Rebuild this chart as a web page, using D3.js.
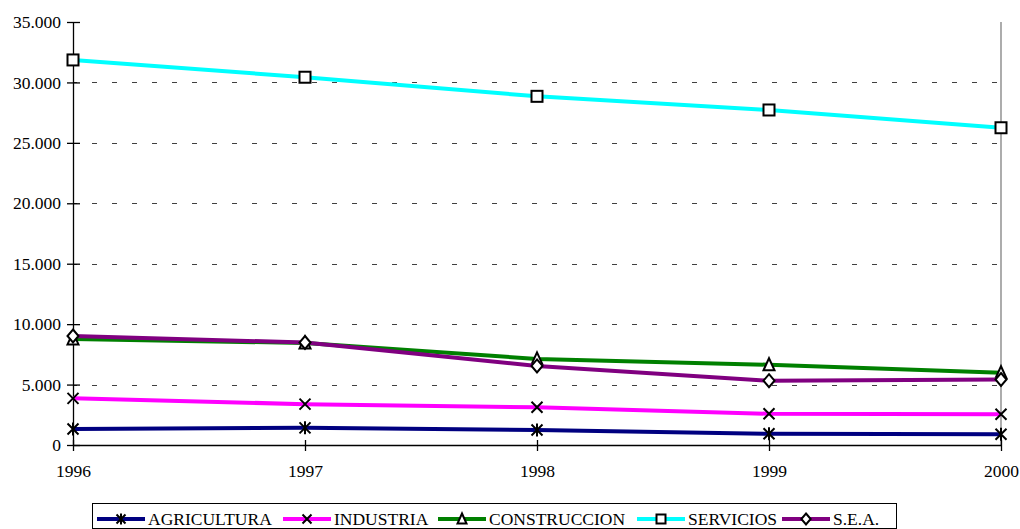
<!DOCTYPE html>
<html>
<head>
<meta charset="utf-8">
<script src="https://cdn.jsdelivr.net/npm/d3@7"></script>
<style>
  html, body { margin: 0; padding: 0; background: #fff; }
  svg { display: block; }
  svg text { font-family: "Times New Roman", "Liberation Serif", Tinos, "DejaVu Serif", serif !important; fill: #000; }
</style>
</head>
<body>
<svg id="chart" width="1020" height="529"></svg>
<script>
const years = [1996, 1997, 1998, 1999, 2000];
const yTicks = [0, 5000, 10000, 15000, 20000, 25000, 30000, 35000];
const seriesNames = ["AGRICULTURA", "INDUSTRIA", "CONSTRUCCION", "SERVICIOS", "S.E.A."];
const agricultura = [1320, 1420, 1240, 930, 890];
const industria = [3860, 3380, 3120, 2580, 2540];
const construccion = [8780, 8440, 7120, 6640, 5980];
const servicios = [31860, 30430, 28850, 27720, 26250];
const sea = [9020, 8480, 6540, 5320, 5420];
const seriesColors = ["#000080", "#FF00FF", "#008000", "#00FFFF", "#800080"];
const seriesMarkers = ["asterisk", "x", "triangle", "square", "diamond"];

(function () {
const seriesValues = [agricultura, industria, construccion, servicios, sea];
const series = seriesNames.map((n, i) => ({
  name: n, values: seriesValues[i], color: seriesColors[i], marker: seriesMarkers[i]
}));

const FONT = '"Times New Roman", "Liberation Serif", Tinos, "DejaVu Serif", serif';
const svg = d3.select("#chart");
const pLeft = 73, pRight = 1001, pTop = 22, pBottom = 445;
const x = d3.scaleLinear().domain([1996, 2000]).range([pLeft, pRight]);
const y = d3.scaleLinear().domain([0, 35000]).range([pBottom, pTop]);
const fmt = d => d === 0 ? "0" : d3.format(",")(d).replace(/,/g, ".");

// gridlines
svg.append("g").selectAll("line").data(yTicks.filter(t => t > 0 && t < 35000)).join("line")
  .attr("x1", pLeft).attr("x2", pRight)
  .attr("y1", d => Math.round(y(d)) + 0.5).attr("y2", d => Math.round(y(d)) + 0.5)
  .attr("stroke", "#404040").attr("stroke-width", 1)
  .attr("stroke-dasharray", "5,15").attr("stroke-dashoffset", 1);

// right border
svg.append("line").attr("x1", pRight).attr("x2", pRight).attr("y1", pTop).attr("y2", pBottom)
  .attr("stroke", "#808080").attr("stroke-width", 1.3);

// axes
const yAxis = d3.axisLeft(y).tickValues(yTicks).tickFormat(fmt).tickSizeInner(6).tickSizeOuter(0).tickPadding(6);
const gy = svg.append("g").attr("transform", `translate(${pLeft},0)`).call(yAxis)
  .attr("font-family", FONT).attr("font-size", 17.5);
gy.select(".domain").attr("stroke", "#000").attr("stroke-width", 1.3);
gy.selectAll(".tick line").attr("x1", -6).attr("x2", 7).attr("stroke", "#000").attr("stroke-width", 1.3);
gy.selectAll(".tick text").attr("fill", "#000");

const xAxis = d3.axisBottom(x).tickValues(years).tickFormat(d3.format("d")).tickSizeInner(6).tickSizeOuter(0).tickPadding(14);
const gx = svg.append("g").attr("transform", `translate(0,${pBottom})`).call(xAxis)
  .attr("font-family", FONT).attr("font-size", 17.5);
gx.select(".domain").attr("stroke", "#000").attr("stroke-width", 1.3);
gx.selectAll(".tick line").attr("y1", -5).attr("y2", 6).attr("stroke", "#000").attr("stroke-width", 1.3);
gx.selectAll(".tick text").attr("fill", "#000");

// marker drawing
function drawMarker(g, type, cx, cy, s) {
  const st = "#000", sw = 2;
  if (type === "square") {
    g.append("rect").attr("x", cx - s/2).attr("y", cy - s/2).attr("width", s).attr("height", s)
      .attr("fill", "#fff").attr("stroke", st).attr("stroke-width", sw);
  } else if (type === "diamond") {
    const h = s/2 + 1;
    g.append("path").attr("d", `M${cx},${cy-h}L${cx+h*0.85},${cy}L${cx},${cy+h}L${cx-h*0.85},${cy}Z`)
      .attr("fill", "#fff").attr("stroke", st).attr("stroke-width", sw);
  } else if (type === "triangle") {
    const h = s/2;
    g.append("path").attr("d", `M${cx},${cy-h-1}L${cx+h},${cy+h}L${cx-h},${cy+h}Z`)
      .attr("fill", "#fff").attr("stroke", st).attr("stroke-width", sw);
  } else if (type === "x" || type === "asterisk") {
    const h = s/2;
    g.append("path").attr("d", `M${cx-h},${cy-h}L${cx+h},${cy+h}M${cx+h},${cy-h}L${cx-h},${cy+h}`)
      .attr("stroke", st).attr("stroke-width", sw).attr("fill", "none");
    if (type === "asterisk") {
      g.append("path").attr("d", `M${cx},${cy-h-1}L${cx},${cy+h+1}`)
        .attr("stroke", st).attr("stroke-width", sw);
    }
  }
}

const line = d3.line().x((d, i) => x(years[i])).y(d => y(d));
series.forEach(s => {
  const g = svg.append("g");
  g.append("path").attr("d", line(s.values)).attr("fill", "none")
    .attr("stroke", s.color).attr("stroke-width", 4).attr("stroke-linejoin", "round");
  s.values.forEach((v, i) => drawMarker(g, s.marker, x(years[i]), y(v), 11));
});

// legend
const lg = svg.append("g").attr("font-family", FONT).attr("font-size", 17.5);
lg.append("rect").attr("x", 92.5).attr("y", 503.5).attr("width", 804).attr("height", 25)
  .attr("fill", "#fff").attr("stroke", "#000").attr("stroke-width", 1);
const legendX = [97, 283, 438, 637, 782];
const ly = 519;
series.forEach((s, i) => {
  const lx = legendX[i];
  lg.append("line").attr("x1", lx).attr("x2", lx + 48).attr("y1", ly).attr("y2", ly)
    .attr("stroke", s.color).attr("stroke-width", 4);
  const mg = lg.append("g");
  drawMarker(mg, s.marker, lx + 24, ly, 9);
  lg.append("text").attr("x", lx + 51).attr("y", ly + 6).text(s.name);
});
})();
</script>
</body>
</html>
